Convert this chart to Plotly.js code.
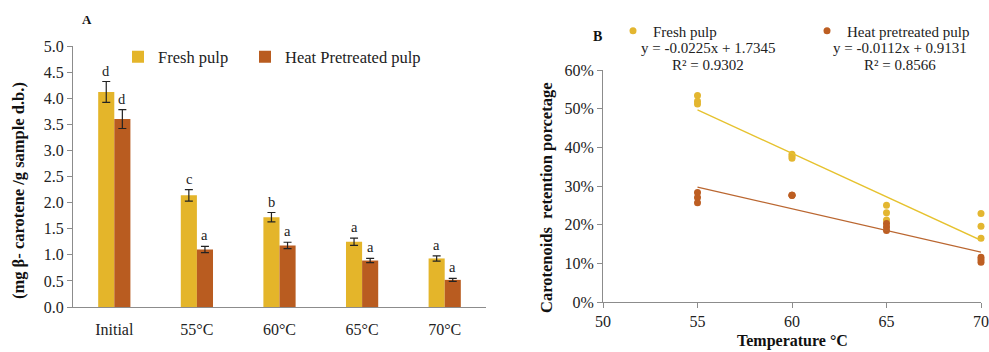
<!DOCTYPE html>
<html>
<head>
<meta charset="utf-8">
<script src="https://cdn.plot.ly/plotly-3.0.1.min.js"></script>
<style>html,body{margin:0;padding:0;background:#fff;}#chart{width:989px;height:352px;}</style>
</head>
<body>
<div id="chart"></div>
<script>
// Panel A data
const categories = ['Initial', '55°C', '60°C', '65°C', '70°C'];
const freshValues = [4.12, 2.14, 1.72, 1.25, 0.93];
const freshErrors = [0.20, 0.11, 0.09, 0.07, 0.05];
const freshLetters = ['d', 'c', 'b', 'a', 'a'];
const heatValues = [3.60, 1.10, 1.18, 0.89, 0.52];
const heatErrors = [0.18, 0.06, 0.06, 0.04, 0.03];
const heatLetters = ['d', 'a', 'a', 'a', 'a'];
const yTicksA = [0, 0.5, 1, 1.5, 2, 2.5, 3, 3.5, 4, 4.5, 5];

// Panel B data
const freshTemp = [55, 55, 55, 60, 60, 60, 65, 65, 65, 70, 70, 70];
const freshRetention = [0.534, 0.519, 0.512, 0.382, 0.377, 0.372, 0.250, 0.231, 0.212, 0.229, 0.196, 0.165];
const heatTemp = [55, 55, 55, 60, 60, 60, 65, 65, 65, 70, 70, 70];
const heatRetention = [0.283, 0.270, 0.257, 0.276, 0.276, 0.276, 0.203, 0.194, 0.185, 0.116, 0.109, 0.103];
const trendX = [55, 70];
const freshTrend = {slope: -0.0225, intercept: 1.7345, r2: '0.9302'};
const heatTrend = {slope: -0.0112, intercept: 0.9131, r2: '0.8566'};
const xTicksB = [50, 55, 60, 65, 70];
const yTicksB = [0, 0.1, 0.2, 0.3, 0.4, 0.5, 0.6];

const FRESH = '#E4B52A';
const HEAT = '#B95C20';
const FRESH_PT = '#E3B630';
const HEAT_PT = '#BD5E22';
const SERIF = 'Liberation Serif, Times New Roman, serif';
const AXIS = '#8c8c8c';
const TICKSIZE = 16;

const traces = [
  {type: 'bar', x: categories, y: freshValues, name: 'Fresh pulp', marker: {color: FRESH},
   error_y: {type: 'data', array: freshErrors, visible: true, color: '#222', thickness: 1.2, width: 4},
   xaxis: 'x', yaxis: 'y', legend: 'legend'},
  {type: 'bar', x: categories, y: heatValues, name: 'Heat Pretreated pulp', marker: {color: HEAT},
   error_y: {type: 'data', array: heatErrors, visible: true, color: '#222', thickness: 1.2, width: 4},
   xaxis: 'x', yaxis: 'y', legend: 'legend2'},
  {type: 'scatter', mode: 'markers', x: freshTemp, y: freshRetention, name: 'Fresh pulp',
   marker: {color: FRESH_PT, size: 7}, xaxis: 'x2', yaxis: 'y2', cliponaxis: false, legend: 'legend3'},
  {type: 'scatter', mode: 'markers', x: heatTemp, y: heatRetention, name: 'Heat pretreated pulp',
   marker: {color: HEAT_PT, size: 7}, xaxis: 'x2', yaxis: 'y2', cliponaxis: false, legend: 'legend4'},
  {type: 'scatter', mode: 'lines', x: trendX, y: trendX.map(t => freshTrend.slope * t + freshTrend.intercept),
   line: {color: '#E6C22E', width: 1.3}, xaxis: 'x2', yaxis: 'y2', showlegend: false, hoverinfo: 'skip'},
  {type: 'scatter', mode: 'lines', x: trendX, y: trendX.map(t => heatTrend.slope * t + heatTrend.intercept),
   line: {color: '#BA6630', width: 1.3}, xaxis: 'x2', yaxis: 'y2', showlegend: false, hoverinfo: 'skip'}
];

const annotations = [];
categories.forEach((c, i) => {
  annotations.push({xref: 'x', yref: 'y', x: c, y: freshValues[i] + freshErrors[i], xshift: -8, yshift: 1,
    text: freshLetters[i], showarrow: false, yanchor: 'bottom', font: {family: SERIF, size: 14.5, color: '#222'}});
  annotations.push({xref: 'x', yref: 'y', x: c, y: heatValues[i] + heatErrors[i], xshift: 8, yshift: 1,
    text: heatLetters[i], showarrow: false, yanchor: 'bottom', font: {family: SERIF, size: 14.5, color: '#222'}});
});
function fmtEq(t) {
  return 'y = ' + t.slope.toFixed(4) + 'x + ' + t.intercept.toFixed(4);
}
annotations.push(
  {xref: 'paper', yref: 'paper', x: 80/989, y: 1 - 20/352, text: '<b>A</b>', showarrow: false,
   xanchor: 'left', yanchor: 'middle', font: {family: SERIF, size: 13, color: '#111'}},
  {xref: 'paper', yref: 'paper', x: 597/989, y: 1 - 36/352, text: '<b>B</b>', showarrow: false,
   xanchor: 'center', yanchor: 'middle', font: {family: SERIF, size: 14, color: '#111'}},
  {xref: 'paper', yref: 'paper', x: 18/989, y: 1 - 191/352, text: '<b>(mg β- carotene /g sample d.b.)</b>',
   textangle: -90, showarrow: false, xanchor: 'center', yanchor: 'middle', font: {family: SERIF, size: 16.5, color: '#111'}},
  {xref: 'paper', yref: 'paper', x: 546/989, y: 1 - 198/352, text: '<b>Carotenoids  retention porcetage</b>',
   textangle: -90, showarrow: false, xanchor: 'center', yanchor: 'middle', font: {family: SERIF, size: 16.5, color: '#111'}},
  {xref: 'paper', yref: 'paper', x: 792/989, y: 0, text: '<b>Temperature °C</b>', showarrow: false,
   xanchor: 'center', yanchor: 'bottom', yshift: 0, font: {family: SERIF, size: 16, color: '#111'}},
  {xref: 'paper', yref: 'paper', x: 708/989, y: 1 - 48/352, text: fmtEq(freshTrend), showarrow: false,
   xanchor: 'center', yanchor: 'middle', font: {family: SERIF, size: 15, color: '#222'}},
  {xref: 'paper', yref: 'paper', x: 708/989, y: 1 - 65/352, text: 'R² = ' + freshTrend.r2, showarrow: false,
   xanchor: 'center', yanchor: 'middle', font: {family: SERIF, size: 15, color: '#222'}},
  {xref: 'paper', yref: 'paper', x: 900/989, y: 1 - 48/352, text: fmtEq(heatTrend), showarrow: false,
   xanchor: 'center', yanchor: 'middle', font: {family: SERIF, size: 15, color: '#222'}},
  {xref: 'paper', yref: 'paper', x: 900/989, y: 1 - 65/352, text: 'R² = ' + heatTrend.r2, showarrow: false,
   xanchor: 'center', yanchor: 'middle', font: {family: SERIF, size: 15, color: '#222'}}
);

function legendAt(px, py, size) {
  return {orientation: 'h', x: px/989, y: 1 - py/352, xanchor: 'left', yanchor: 'middle',
    font: {family: SERIF, size: size, color: '#222'}, bgcolor: 'rgba(0,0,0,0)', itemwidth: 30};
}

const layout = {
  width: 989, height: 352,
  margin: {l: 0, r: 0, t: 0, b: 0, autoexpand: false},
  paper_bgcolor: '#fff', plot_bgcolor: '#fff',
  font: {family: SERIF, color: '#222'},
  barmode: 'group', bargap: 0.61, bargroupgap: 0,
  xaxis: {domain: [73/989, 486/989], anchor: 'y', showline: true, linecolor: AXIS, linewidth: 1,
    ticks: '', showgrid: false, zeroline: false, tickfont: {family: SERIF, size: TICKSIZE, color: '#222'}, ticklabelstandoff: 8},
  yaxis: {domain: [45/352, 306/352], anchor: 'x', range: [0, 5], tickvals: yTicksA,
    ticktext: yTicksA.map(v => v.toFixed(1)), showline: true, linecolor: AXIS, linewidth: 1,
    ticks: 'outside', ticklen: 5, tickcolor: AXIS, showgrid: false, zeroline: false,
    tickfont: {family: SERIF, size: TICKSIZE, color: '#222'}},
  xaxis2: {domain: [603/989, 981/989], anchor: 'y2', range: [50, 70], tickvals: xTicksB,
    showline: true, linecolor: AXIS, linewidth: 1, ticks: 'outside', ticklen: 5, tickcolor: AXIS,
    showgrid: false, zeroline: false, ticklabeloverflow: 'allow',
    tickfont: {family: SERIF, size: TICKSIZE, color: '#222'}},
  yaxis2: {domain: [50/352, 282/352], anchor: 'x2', range: [0, 0.6], tickvals: yTicksB, tickformat: '.0%',
    showline: true, linecolor: AXIS, linewidth: 1, ticks: 'outside', ticklen: 5, tickcolor: AXIS,
    showgrid: false, zeroline: false, tickfont: {family: SERIF, size: TICKSIZE, color: '#222'}},
  legend: legendAt(118, 57, 16.5),
  legend2: legendAt(245, 57, 16.5),
  legend3: legendAt(613, 31, 15),
  legend4: legendAt(807, 31, 15),
  annotations: annotations
};

Plotly.newPlot('chart', traces, layout, {displayModeBar: false, staticPlot: true});
</script>
</body>
</html>
